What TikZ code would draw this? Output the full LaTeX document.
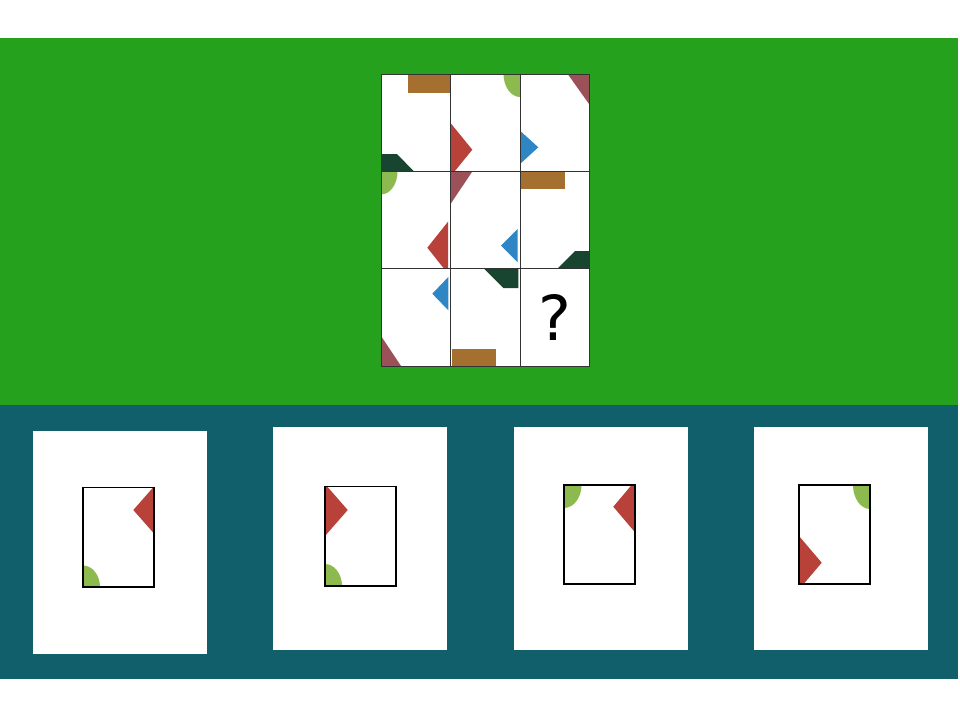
\documentclass[tikz,border=0pt]{standalone}
\usepackage{fontspec}
\setmainfont{DejaVu Sans}
\definecolor{bggreen}{HTML}{25A11E}
\definecolor{bgteal}{HTML}{115F6B}
\definecolor{cbrown}{HTML}{A5702F}
\definecolor{cdkgreen}{HTML}{17452F}
\definecolor{clgreen}{HTML}{8DBA4F}
\definecolor{cred}{HTML}{B8413A}
\definecolor{cmauve}{HTML}{9C5057}
\definecolor{cblue}{HTML}{2E86C4}
\tikzset{
  gridline/.style={draw=black!80, line width=0.9pt},
  optbox/.style={draw=black, line width=1.7pt},
  panel/.style={fill=white},
}
\begin{document}
\begin{tikzpicture}[x=1pt,y=-1pt]
\useasboundingbox (0,0) rectangle (960,720);
\fill[white] (0,0) rectangle (960,720);
\fill[bggreen] (0,38) rectangle (958,405);
\fill[bgteal] (0,405) rectangle (958,679);
% puzzle grid
\fill[white] (381,74) rectangle (589,366);
% cell 00
\begin{scope}
\clip (381,74) rectangle (450.5,171.5);
\fill[cbrown] (408,74) rectangle (450.5,93);
\fill[cdkgreen] (381,154) -- (397,154) -- (414,171.5) -- (381,171.5) -- cycle;
\end{scope}
% cell 01
\begin{scope}
\clip (450.5,74) rectangle (520,171.5);
\fill[clgreen] (520,74) ellipse[x radius=16.5, y radius=23];
\fill[cred] (450.5,123) -- (472.3,149.7) -- (450.5,176.4) -- cycle;
\end{scope}
% cell 02
\begin{scope}
\clip (520,74) rectangle (589,171.5);
\fill[cmauve] (567.7,74) -- (589,74) -- (589,104) -- cycle;
\fill[cblue] (520,130.7) -- (538.3,147.3) -- (520,164) -- cycle;
\end{scope}
% cell 10
\begin{scope}
\clip (381,171.5) rectangle (450.5,268.5);
\fill[clgreen] (381,171.5) ellipse[x radius=16.5, y radius=23];
\fill[cred] (448,221.7) -- (427.3,247.7) -- (448,273.7) -- cycle;
\end{scope}
% cell 11
\begin{scope}
\clip (450.5,171.5) rectangle (520,268.5);
\fill[cmauve] (450.5,171.5) -- (472.3,171.5) -- (450.5,204) -- cycle;
\fill[cblue] (517.7,229) -- (501,245.7) -- (517.7,262.3) -- cycle;
\end{scope}
% cell 12
\begin{scope}
\clip (520,171.5) rectangle (589,268.5);
\fill[cbrown] (520,171.5) rectangle (565,189);
\fill[cdkgreen] (557.5,268.5) -- (575,251) -- (589,251) -- (589,268.5) -- cycle;
\end{scope}
% cell 20
\begin{scope}
\clip (381,268.5) rectangle (450.5,366);
\fill[cblue] (448.3,277) -- (432.3,293.7) -- (448.3,310.3) -- cycle;
\fill[cmauve] (381,336) -- (401,366) -- (381,366) -- cycle;
\end{scope}
% cell 21
\begin{scope}
\clip (450.5,268.5) rectangle (520,366);
\fill[cdkgreen] (484,268.5) -- (518.3,268.5) -- (518.3,288) -- (503.3,288) -- cycle;
\fill[cbrown] (452,349) rectangle (496,366);
\end{scope}
% cell 22
\node[font=\fontsize{62}{62}\selectfont, inner sep=0pt] (q) at (555,317) {?};
% grid lines
\draw[gridline] (381,74) rectangle (589,366);
\draw[gridline] (450.5,74) -- (450.5,366);
\draw[gridline] (520,74) -- (520,366);
\draw[gridline] (381,171.5) -- (589,171.5);
\draw[gridline] (381,268.5) -- (589,268.5);
% option 1
\fill[panel] (33,431) rectangle (207,654);
\begin{scope}
\clip (83,487.5) rectangle (154,587);
\fill[cred] (154,486.5) -- (133.3,510) -- (154,533.5) -- cycle;
\fill[clgreen] (83,587) ellipse[x radius=17, y radius=21.5];
\end{scope}
\draw[optbox] (83,487.5) rectangle (154,587);
% option 2
\fill[panel] (273,427) rectangle (447,650);
\begin{scope}
\clip (325,486.5) rectangle (396,586);
\fill[cred] (325,484) -- (347.7,510) -- (325,536) -- cycle;
\fill[clgreen] (325,586) ellipse[x radius=17, y radius=22];
\end{scope}
\draw[optbox] (325,486.5) rectangle (396,586);
% option 3
\fill[panel] (514,427) rectangle (688,650);
\begin{scope}
\clip (564,485) rectangle (635,584);
\fill[clgreen] (564,485) ellipse[x radius=17.5, y radius=23];
\fill[cred] (635,481) -- (613.3,506.7) -- (635,532.3) -- cycle;
\end{scope}
\draw[optbox] (564,485) rectangle (635,584);
% option 4
\fill[panel] (754,427) rectangle (928,650);
\begin{scope}
\clip (799,485) rectangle (870,584);
\fill[clgreen] (870,485) ellipse[x radius=17, y radius=24];
\fill[cred] (799,536) -- (821.7,562.7) -- (799,589.4) -- cycle;
\end{scope}
\draw[optbox] (799,485) rectangle (870,584);
\end{tikzpicture}
\end{document}
